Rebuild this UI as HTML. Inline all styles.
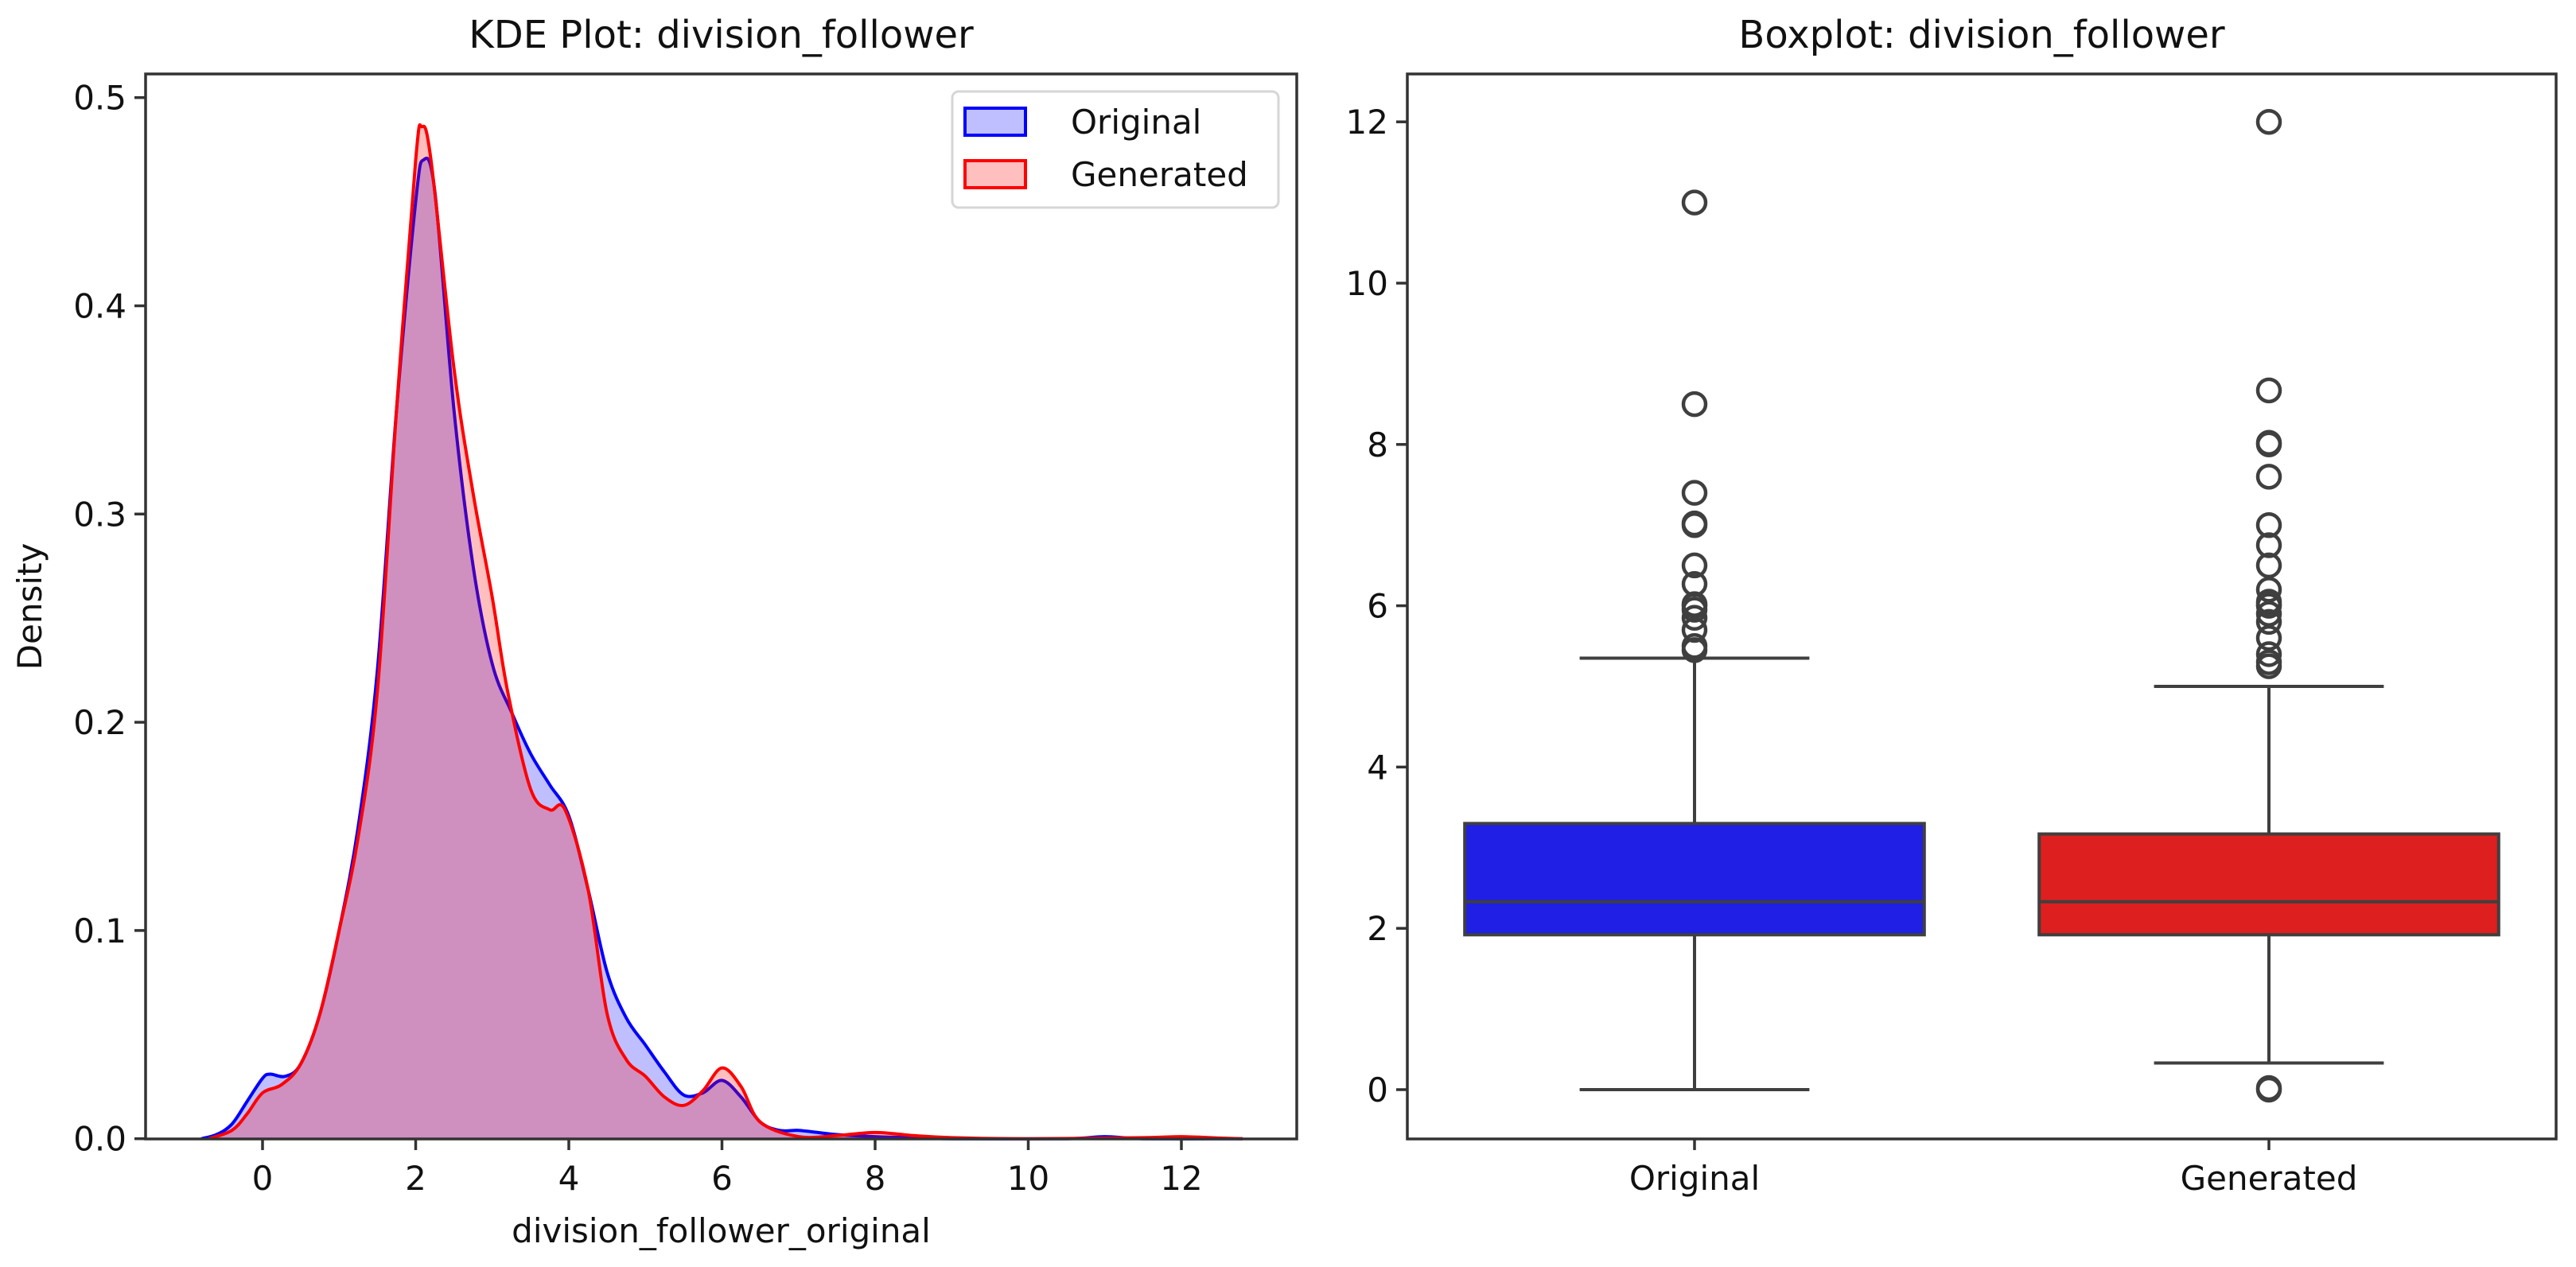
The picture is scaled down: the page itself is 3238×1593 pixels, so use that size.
<!DOCTYPE html>
<html><head><meta charset="utf-8"><style>
html,body{margin:0;padding:0;background:#fff;}
svg{display:block;font-family:"DejaVu Sans","Liberation Sans",sans-serif;}
</style></head><body>
<svg id="fig" width="3238" height="1593" viewBox="0 0 3238 1593">
<rect width="3238" height="1593" fill="#fff"/>
<g id="kde"></g>
<g id="box"></g>
</svg>
<script>
// ---- KDE data ----
const origX = [-0.8,-0.6,-0.4,-0.2,0,0.1,0.3,0.5,0.75,1.0,1.25,1.5,1.75,2.0,2.1,2.25,2.5,2.75,3.0,3.25,3.5,3.75,4.0,4.25,4.5,4.75,5.0,5.25,5.5,5.75,6.0,6.25,6.5,6.75,7.0,7.25,7.5,8.0,8.5,9.0,10.5,11.0,11.5,12.8];
const origY = [0,0.002,0.007,0.018,0.029,0.031,0.030,0.036,0.06,0.1,0.15,0.225,0.35,0.45,0.47,0.455,0.35,0.275,0.228,0.205,0.185,0.17,0.155,0.12,0.08,0.058,0.045,0.032,0.021,0.022,0.028,0.02,0.008,0.004,0.004,0.003,0.002,0.001,0.0005,0,0,0.001,0,0];
const genX = [-0.7,-0.4,-0.2,0,0.25,0.5,0.75,1.0,1.25,1.5,1.75,2.0,2.08,2.2,2.5,2.75,3.0,3.2,3.5,3.75,3.95,4.25,4.5,4.75,5.0,5.25,5.5,5.75,6.0,6.25,6.5,7.0,7.5,8.0,8.5,9.0,10.0,11.5,12.0,12.5,12.8];
const genY = [0,0.004,0.012,0.022,0.026,0.036,0.06,0.1,0.145,0.215,0.35,0.47,0.486,0.47,0.37,0.31,0.26,0.215,0.168,0.158,0.158,0.12,0.06,0.038,0.03,0.02,0.016,0.023,0.034,0.025,0.008,0.001,0.0015,0.003,0.0015,0.0005,0,0.0005,0.001,0.0003,0];
const kdeXTicks = [0,2,4,6,8,10,12];
const kdeYTicks = [0.0,0.1,0.2,0.3,0.4,0.5];
// ---- Boxplot data ----
const boxCats = ["Original","Generated"];
const boxQ1 = [1.92,1.92];
const boxMed = [2.33,2.33];
const boxQ3 = [3.3,3.17];
const boxLo = [0,0.33];
const boxHi = [5.35,5.0];
const outOrig = [11,8.5,7.4,7.0,7.02,6.5,6.27,6.0,6.02,5.95,5.85,5.7,5.5,5.45];
const outGen = [12,8.67,8.0,8.02,7.6,7.0,6.75,6.5,6.2,6.05,6.0,6.02,5.9,5.8,5.6,5.4,5.3,5.25,0,0.02];
const boxYTicks = [0,2,4,6,8,10,12];
const boxColors = ["#1f1fe5","#dd1f1f"];

const NS="http://www.w3.org/2000/svg";
function mk(parent,tag,attrs,text){const e=document.createElementNS(NS,tag);for(const k in attrs)e.setAttribute(k,attrs[k]);if(text!==undefined)e.textContent=text;parent.appendChild(e);return e;}

const kL=183,kR=1630,kT=93,kB=1432;
const kx=v=>330+v*96.25;
const ky=v=>1431.7-v*2618;
const kg=document.getElementById('kde');
function smoothPath(xs,ys){
  const p=xs.map((x,i)=>[kx(x),ky(ys[i])]);
  let d=`M${p[0][0]},${p[0][1]}`;
  for(let i=0;i<p.length-1;i++){
    const p0=p[Math.max(0,i-1)],p1=p[i],p2=p[i+1],p3=p[Math.min(p.length-1,i+2)];
    const c1=[p1[0]+(p2[0]-p0[0])/6,p1[1]+(p2[1]-p0[1])/6];
    const c2=[p2[0]-(p3[0]-p1[0])/6,p2[1]-(p3[1]-p1[1])/6];
    d+=` C${c1[0]},${Math.min(c1[1],kB)} ${c2[0]},${Math.min(c2[1],kB)} ${p2[0]},${p2[1]}`;
  }
  return d;
}
const series=[[origX,origY,"#0000ff","original"],[genX,genY,"#ff0000","generated"]];
series.forEach(s=>{
  const d=smoothPath(s[0],s[1]);
  const f=mk(kg,'path',{d:d+` L${kx(s[0][s[0].length-1])},${kB} L${kx(s[0][0])},${kB} Z`,fill:s[2],'fill-opacity':0.25,stroke:'none'});
  
  
  const l=mk(kg,'path',{d:d,fill:'none',stroke:s[2],'stroke-width':4});
  
  
});
const kfr=mk(kg,'rect',{x:kL,y:kT,width:kR-kL,height:kB-kT,fill:'none',stroke:'#333','stroke-width':3.5});


kdeXTicks.forEach(v=>{
  mk(kg,'line',{x1:kx(v),x2:kx(v),y1:kB,y2:kB+14,stroke:'#333','stroke-width':3.5});
  const t=mk(kg,'text',{x:kx(v),y:kB+64,'font-size':42,'text-anchor':'middle',fill:'#111'},String(v));
  
  
});
kdeYTicks.forEach(v=>{
  mk(kg,'line',{x1:kL-14,x2:kL,y1:ky(v),y2:ky(v),stroke:'#333','stroke-width':3.5});
  const t=mk(kg,'text',{x:kL-24,y:ky(v)+15,'font-size':42,'text-anchor':'end',fill:'#111'},v.toFixed(1));
  
  
});
let t;
t=mk(kg,'text',{x:(kL+kR)/2,y:60,'font-size':48,'text-anchor':'middle',fill:'#111'},'KDE Plot: division_follower');

t=mk(kg,'text',{x:(kL+kR)/2,y:1562,'font-size':42,'text-anchor':'middle',fill:'#111'},'division_follower_original');

t=mk(kg,'text',{x:0,y:0,'font-size':42,'text-anchor':'middle',fill:'#111',transform:`translate(52,${(kT+kB)/2}) rotate(-90)`},'Density');

const lg=mk(kg,'g',{});


mk(lg,'rect',{x:1197,y:115,width:410,height:146,rx:8,fill:'#fff','fill-opacity':0.8,stroke:'#d6d6d6','stroke-width':3});
[["Original","#0000ff",153],["Generated","#ff0000",219]].forEach(e=>{
  const r=mk(lg,'rect',{x:1213,y:e[2]-17,width:76,height:34,fill:e[1],'fill-opacity':0.25,stroke:e[1],'stroke-width':4});
  
  const tt=mk(lg,'text',{x:1346,y:e[2]+15,'font-size':42,fill:'#111'},e[0]);
  
});

const bL=1769,bR=3213,bT=93,bB=1432;
const by=v=>1370-v*101.4;
const bx=i=>bL+(i+0.5)*(bR-bL)/2;
const bw=(bR-bL)/2*0.8;
const bg=document.getElementById('box');
const outs=[outOrig,outGen];
boxCats.forEach((c,i)=>{
  const cx=bx(i);
  const g=mk(bg,'g',{});
  
  
  mk(g,'line',{x1:cx,x2:cx,y1:by(boxQ3[i]),y2:by(boxHi[i]),stroke:'#3f3f3f','stroke-width':4});
  mk(g,'line',{x1:cx,x2:cx,y1:by(boxQ1[i]),y2:by(boxLo[i]),stroke:'#3f3f3f','stroke-width':4});
  mk(g,'line',{x1:cx-bw/4,x2:cx+bw/4,y1:by(boxHi[i]),y2:by(boxHi[i]),stroke:'#3f3f3f','stroke-width':4});
  mk(g,'line',{x1:cx-bw/4,x2:cx+bw/4,y1:by(boxLo[i]),y2:by(boxLo[i]),stroke:'#3f3f3f','stroke-width':4});
  mk(g,'rect',{x:cx-bw/2,y:by(boxQ3[i]),width:bw,height:by(boxQ1[i])-by(boxQ3[i]),fill:boxColors[i],stroke:'#3f3f3f','stroke-width':4});
  mk(g,'line',{x1:cx-bw/2,x2:cx+bw/2,y1:by(boxMed[i]),y2:by(boxMed[i]),stroke:'#3f3f3f','stroke-width':4});
  outs[i].forEach(v=>{
    const o=mk(g,'circle',{cx:cx,cy:by(v),r:14,fill:'none',stroke:'#3f3f3f','stroke-width':4.5});
    
    
  });
  mk(bg,'line',{x1:cx,x2:cx,y1:bB,y2:bB+14,stroke:'#333','stroke-width':3.5});
  const tl=mk(bg,'text',{x:cx,y:bB+64,'font-size':42,'text-anchor':'middle',fill:'#111'},c);
  
});
boxYTicks.forEach(v=>{
  mk(bg,'line',{x1:bL-14,x2:bL,y1:by(v),y2:by(v),stroke:'#333','stroke-width':3.5});
  const tl=mk(bg,'text',{x:bL-24,y:by(v)+15,'font-size':42,'text-anchor':'end',fill:'#111'},String(v));
  
});
const bfr=mk(bg,'rect',{x:bL,y:bT,width:bR-bL,height:bB-bT,fill:'none',stroke:'#333','stroke-width':3.5});


t=mk(bg,'text',{x:(bL+bR)/2,y:60,'font-size':48,'text-anchor':'middle',fill:'#111'},'Boxplot: division_follower');

</script>
</body></html>
